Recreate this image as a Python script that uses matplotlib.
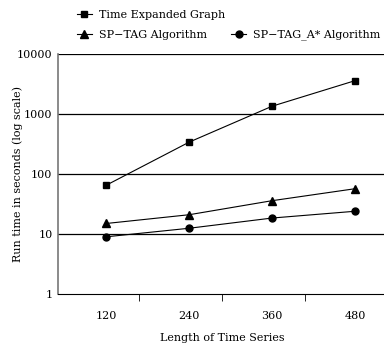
import matplotlib
matplotlib.use('Agg')
import matplotlib.pyplot as plt
from matplotlib.lines import Line2D

# data
lengths = ['120', '240', '360', '480']
teg_times = [65, 340, 1350, 3600]
sptag_times = [15, 21, 36, 57]
astar_times = [9, 12.5, 18.5, 24]

plt.rcParams['font.family'] = ['DejaVu Serif']
plt.rcParams['font.size'] = 8

fig = plt.figure(figsize=(3.84, 3.46), dpi=100)
ax = fig.add_axes([0.151, 0.150, 0.854, 0.694])

xs = range(len(lengths))
ax.plot(xs, teg_times, 'k-', marker='s', ms=5, lw=0.8, label='Time Expanded Graph')
ax.plot(xs, sptag_times, 'k-', marker='^', ms=6, lw=0.8, label='SP\u2212TAG Algorithm')
ax.plot(xs, astar_times, 'k-', marker='o', ms=5, lw=0.8, label='SP\u2212TAG_A* Algorithm')

ax.set_yscale('log')
ax.set_ylim(1, 10000)
ax.set_yticks([1, 10, 100, 1000, 10000])
ax.set_yticklabels(['1', '10', '100', '1000', '10000'])
ax.minorticks_off()
for v in [10, 100, 1000, 10000]:
    ax.axhline(v, color='black', lw=0.9, zorder=0)

ax.set_xlim(-0.58, 3.37)
ax.set_xticks(list(xs))
ax.set_xticklabels(lengths)
ax.set_xticks([0.4, 1.4, 2.4], minor=True)
ax.tick_params(axis='x', which='major', length=0, pad=12)
ax.tick_params(axis='x', which='minor', length=5, direction='out', color='black')
ax.tick_params(axis='y', length=0, pad=4)

ax.spines['top'].set_visible(False)
ax.spines['right'].set_visible(False)
ax.spines['left'].set_color('#777777')
ax.spines['left'].set_linewidth(1.2)
ax.spines['bottom'].set_color('black')

ax.set_xlabel('Length of Time Series', labelpad=9)
ax.set_ylabel('Run time in seconds (log scale)')
ax.yaxis.set_label_coords(-0.108, 0.5)

handles, labels = ax.get_legend_handles_labels()
blank = Line2D([], [], color='none')
handles = [handles[0], handles[1], blank, handles[2]]
labels = [labels[0], labels[1], '', labels[2]]
fig.legend(handles, labels, ncol=2, loc='upper left', bbox_to_anchor=(0.18, 0.993),
           frameon=False, handlelength=1.35, handletextpad=0.6, columnspacing=0.6,
           labelspacing=0.85, borderaxespad=0.3)

fig.savefig('out.png', dpi=100)
